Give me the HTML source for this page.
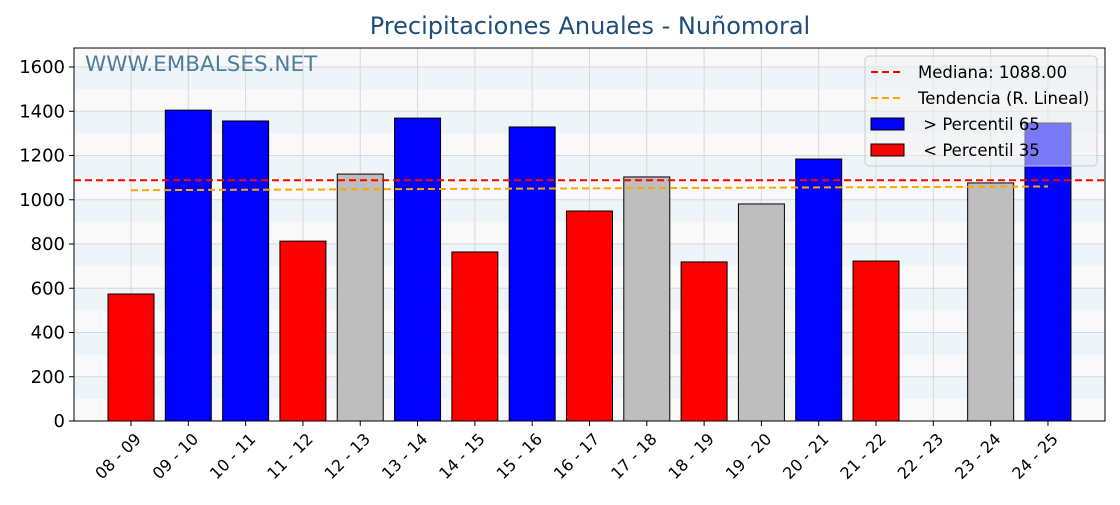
<!DOCTYPE html>
<html><head><meta charset="utf-8"><style>
body{margin:0;background:#fff;width:1120px;height:500px;overflow:hidden}
svg text{font-family:"DejaVu Sans","Liberation Sans",sans-serif;white-space:pre}
</style></head><body>
<svg id="c" width="1120" height="500"></svg>
<script>
const categories=["08 - 09","09 - 10","10 - 11","11 - 12","12 - 13","13 - 14","14 - 15","15 - 16","16 - 17","17 - 18","18 - 19","19 - 20","20 - 21","21 - 22","22 - 23","23 - 24","24 - 25"];
const values=[574,1405,1356,813,1116,1369,764,1329,949,1103,719,981,1184,723,0,1076,1347];
const colorClass=["low","high","high","low","mid","high","low","high","low","mid","low","mid","high","low","mid","mid","high"];
const yTicks=[0,200,400,600,800,1000,1200,1400,1600];
const median=1088;
const trendStart=1043, trendEnd=1060;
const L=74,R=1105,T=48,B=421;
const y=v=>B-v*(421-67)/1600;
const x=i=>131+i*57.31;
const svg=document.getElementById('c');
const NS='http://www.w3.org/2000/svg';
function add(tag,attrs,parent){const e=document.createElementNS(NS,tag);for(const k in attrs)e.setAttribute(k,attrs[k]);(parent||svg).appendChild(e);return e;}
const cols={high:'#0000ff',low:'#ff0000',mid:'#bebebe'};
let bg=add('rect',{x:L,y:T,width:R-L,height:B-T,fill:'#f9f9f9'});


for(let v=100;v<1700;v+=200){const top=Math.max(T,y(v+100));let b=add('rect',{x:L,y:top,width:R-L,height:y(v)-top,fill:'#edf5f8'});

}
yTicks.forEach(t=>{let g=add('line',{x1:L,x2:R,y1:y(t),y2:y(t),stroke:'#d8d8d8','stroke-width':1});


let tk=add('line',{x1:L-5,x2:L,y1:y(t),y2:y(t),stroke:'#000'});


let tx=add('text',{x:L-9,y:y(t)+6,'text-anchor':'end','font-size':18,fill:'#000'});tx.textContent=t;

});
categories.forEach((c,i)=>{let g=add('line',{x1:x(i),x2:x(i),y1:T,y2:B,stroke:'#d8d8d8'});

});
let wm=add('text',{x:85,y:71,'font-size':21.5,fill:'#4a7f9f'});wm.textContent='WWW.EMBALSES.NET';


categories.forEach((c,i)=>{if(values[i]<=0)return;let b=add('rect',{x:x(i)-23,y:y(values[i]),width:46,height:B-y(values[i]),fill:cols[colorClass[i]],stroke:'#000','stroke-width':1});

});
let m=add('line',{x1:L,x2:R,y1:y(median),y2:y(median),stroke:'#ff0000','stroke-width':2,'stroke-dasharray':'7,4'});


let tr=add('line',{x1:x(0),x2:x(categories.length-1),y1:y(trendStart),y2:y(trendEnd),stroke:'#ffa500','stroke-width':2,'stroke-dasharray':'7,4'});


let fr=add('rect',{x:L,y:T,width:R-L,height:B-T,fill:'none',stroke:'#000','stroke-width':1});


categories.forEach((c,i)=>{let tk=add('line',{x1:x(i),x2:x(i),y1:B,y2:B+5,stroke:'#000'});


let t=add('text',{x:0,y:0,'text-anchor':'end','font-size':16,fill:'#000',transform:`translate(${x(i)+11},${B+19}) rotate(-45)`});t.textContent=c;

});
let ti=add('text',{x:590,y:34,'text-anchor':'middle','font-size':24,fill:'#1f4e79'});ti.textContent='Precipitaciones Anuales - Nuñomoral';


const lg=add('g',{});


add('rect',{x:865,y:56,width:232,height:110,rx:4,fill:'#f2f2f2','fill-opacity':0.5,stroke:'#ccc'},lg);
const items=[['line','#ff0000','Mediana: 1088.00'],['line','#ffa500','Tendencia (R. Lineal)'],['box','#0000ff',' > Percentil 65'],['box','#ff0000',' < Percentil 35']];
items.forEach((it,k)=>{const yy=72+k*26;let e;
if(it[0]==='line')e=add('line',{x1:871,x2:904,y1:yy,y2:yy,stroke:it[1],'stroke-width':2,'stroke-dasharray':'7,4'},lg);
else e=add('rect',{x:871,y:yy-6,width:33,height:12,fill:it[1],stroke:'#000'},lg);


let t=add('text',{x:918,y:yy+6,'font-size':16.5,fill:'#000'},lg);t.textContent=it[2];

});
</script>
</body></html>
